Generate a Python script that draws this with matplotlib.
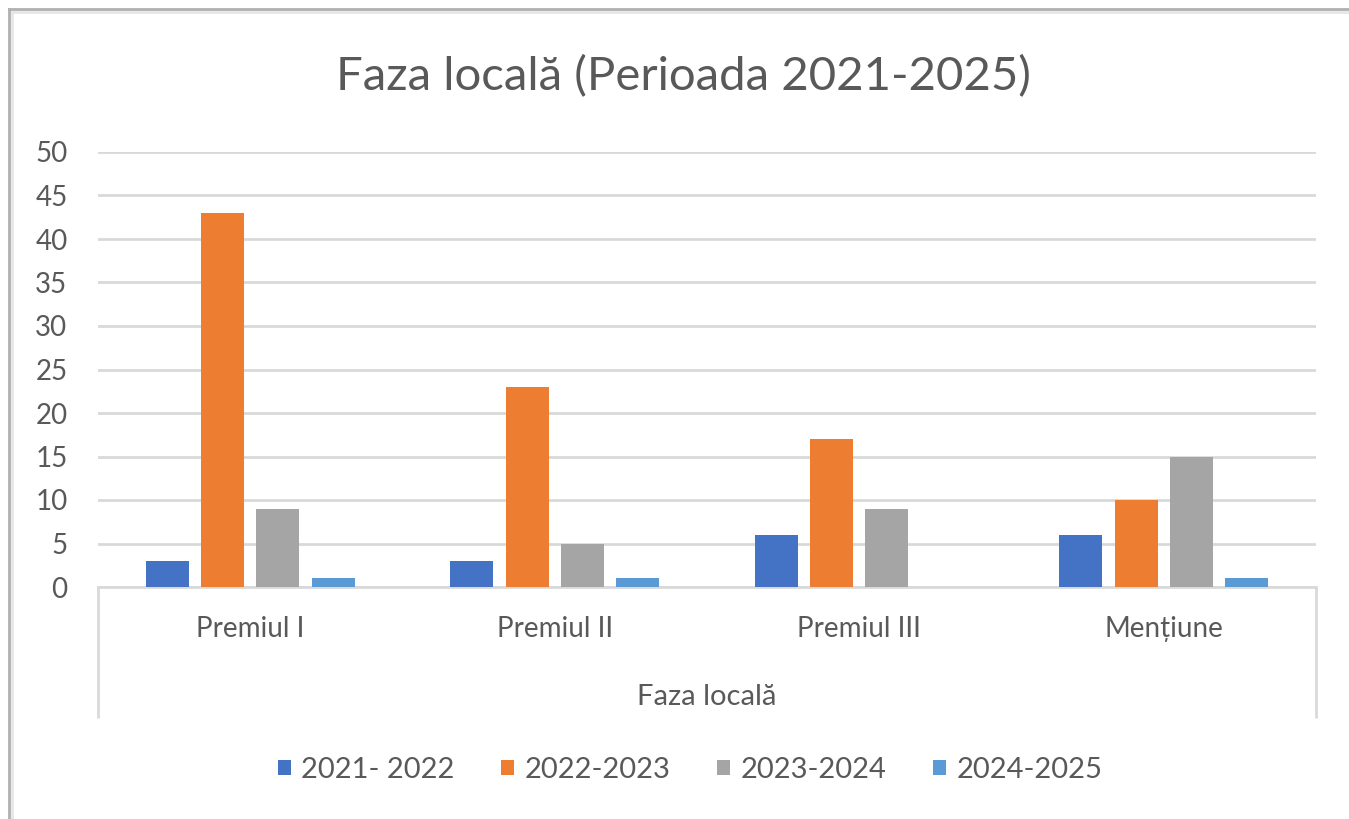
import matplotlib
matplotlib.use("Agg")
import matplotlib.pyplot as plt
from matplotlib.lines import Line2D
from matplotlib.patches import Patch
import numpy as np

plt.rcParams['font.family'] = ['Lato', 'DejaVu Sans']

categories = ["Premiul I", "Premiul II", "Premiul III", "Mențiune"]
series_names = ["2021- 2022", "2022-2023", "2023-2024", "2024-2025"]
s2021_2022 = [3, 3, 6, 6]
s2022_2023 = [43, 23, 17, 10]
s2023_2024 = [9, 5, 9, 15]
s2024_2025 = [1, 1, 0, 1]
series_values = [s2021_2022, s2022_2023, s2023_2024, s2024_2025]
colors = ["#4472C4", "#ED7D31", "#A5A5A5", "#5B9BD5"]
yticks = list(range(0, 51, 5))

TEXT = "#595959"
GRID = "#D9D9D9"

W, H = 1349, 819
fig = plt.figure(figsize=(W / 100, H / 100), dpi=100)
fig.patch.set_facecolor("white")

left, right, bottom, top = 98, 1316, 587, 152
ax = fig.add_axes([left / W, 1 - bottom / H, (right - left) / W, (bottom - top) / H])

x = np.arange(len(categories))
bar_w = 0.141
step = 0.182
offsets = (np.arange(len(series_values)) - 1.5) * step
for vals, off, c, name in zip(series_values, offsets, colors, series_names):
    ax.bar(x + off, vals, width=bar_w, color=c, label=name, zorder=3)

ax.set_xlim(-0.5, len(categories) - 0.5)
ax.set_ylim(0, 50)
ax.set_yticks(yticks)
ax.set_yticklabels([str(v) for v in yticks])
ax.yaxis.grid(True, color=GRID, linewidth=2, zorder=0)
ax.set_axisbelow(True)
for side in ["top", "right", "left"]:
    ax.spines[side].set_visible(False)
ax.spines["bottom"].set_color(GRID)
ax.spines["bottom"].set_linewidth(2)
ax.tick_params(axis="y", length=0, pad=22, labelsize=20, labelcolor=TEXT)
ax.set_xticks(x)
ax.set_xticklabels(categories)
ax.tick_params(axis="x", length=0, pad=21, labelsize=20, labelcolor=TEXT)

# outer group separators of the multi-level category axis
depth = (718 - 587) / (587 - 152)
for xa in (0, 1):
    ax.plot([xa, xa], [0, -depth], transform=ax.transAxes, color=GRID,
            linewidth=2, clip_on=False, solid_capstyle="butt")
ax.text(0.5, -(697 - 587) / (587 - 152), "Faza locală", transform=ax.transAxes,
        ha="center", va="center", fontsize=21, color=TEXT)

fig.text(683 / W, 1 - 77 / H, "Faza locală (Perioada 2021-2025)", ha="center",
         va="center", fontsize=34, color=TEXT)

handles = [Patch(facecolor=c, edgecolor="none") for c in colors]
fig.legend(handles, series_names, loc="center", bbox_to_anchor=(690 / W, 1 - 770 / H),
           ncol=4, frameon=False, fontsize=21, labelcolor=TEXT,
           handlelength=0.45, handleheight=0.45, handletextpad=0.35, columnspacing=1.6)

# chart area frame
fig.add_artist(Line2D([9 / W, 1], [1 - 9 / H, 1 - 9 / H], color="#B0B0B0", linewidth=2))
fig.add_artist(Line2D([9 / W, 9 / W], [0, 1 - 9 / H], color="#B0B0B0", linewidth=2))
fig.add_artist(Line2D([12 / W, 1], [1 - 12 / H, 1 - 12 / H], color="#E6E6E6", linewidth=2))
fig.add_artist(Line2D([12 / W, 12 / W], [0, 1 - 12 / H], color="#E6E6E6", linewidth=2))

fig.savefig("out.png", dpi=100)
